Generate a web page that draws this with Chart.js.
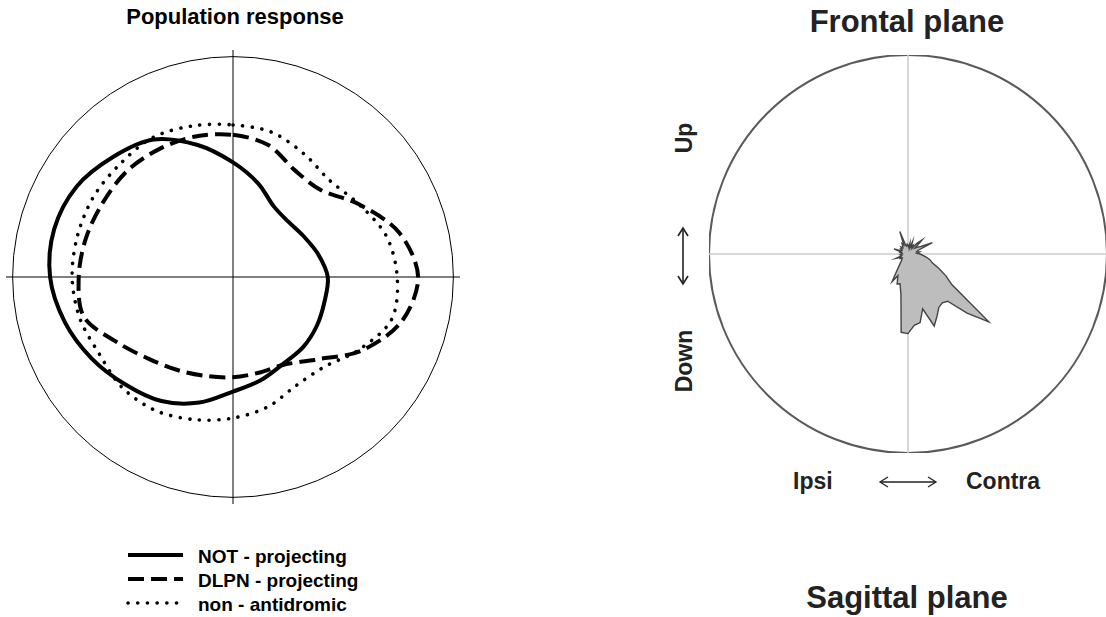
<!DOCTYPE html>
<html>
<head>
<meta charset="utf-8">
<title>Population response / Frontal plane</title>
<script src="https://cdn.jsdelivr.net/npm/chart.js@4.4.1/dist/chart.umd.min.js"></script>
<style>
  html, body { margin: 0; padding: 0; background: #fff; }
  body {
    width: 1106px; height: 617px; position: relative; overflow: hidden;
    font-family: "Liberation Sans", Arial, Helvetica, sans-serif; font-weight: bold;
  }
  .txt { position: absolute; line-height: 1; white-space: nowrap; }
  .box { position: absolute; }
  .rot { transform: translate(-50%, -50%) rotate(-90deg); }
</style>
</head>
<body>

<div class="txt" style="left:85px; top:6px; width:300px; text-align:center; font-size:22px; color:#000;">Population response</div>
<div class="box" style="left:6px; top:50px; width:454px; height:454px;"><canvas id="popChart"></canvas></div>
<div id="legend"></div>

<div class="txt" style="left:757px; top:6px; width:300px; text-align:center; font-size:31px; color:#222;">Frontal plane</div>
<div class="box" style="left:709px; top:55px; width:398px; height:398px;"><canvas id="frontalChart"></canvas></div>
<div class="txt rot" style="left:684px; top:138px; font-size:23px; color:#222;">Up</div>
<div class="txt rot" style="left:684px; top:361px; font-size:23px; color:#222;">Down</div>
<svg class="box" style="left:677px; top:226px;" width="12" height="60">
  <line x1="6" y1="2" x2="6" y2="58" stroke="#222" stroke-width="1.6"/>
  <polyline points="1,10 6,2 11,10" fill="none" stroke="#222" stroke-width="1.6"/>
  <polyline points="1,50 6,58 11,50" fill="none" stroke="#222" stroke-width="1.6"/>
</svg>
<div class="txt" style="left:793px; top:470px; font-size:23px; color:#222;">Ipsi</div>
<div class="txt" style="left:966px; top:470px; font-size:23px; color:#222;">Contra</div>
<svg class="box" style="left:878px; top:476px;" width="60" height="12">
  <line x1="2" y1="6" x2="58" y2="6" stroke="#222" stroke-width="1.3"/>
  <polyline points="10,1 2,6 10,11" fill="none" stroke="#222" stroke-width="1.3"/>
  <polyline points="50,1 58,6 50,11" fill="none" stroke="#222" stroke-width="1.3"/>
</svg>
<div class="txt" style="left:757px; top:582px; width:300px; text-align:center; font-size:31px; color:#222;">Sagittal plane</div>

<script>
// Population response: radius as a fraction of the outer circle,
// one value every 15 deg, clockwise starting from "up"
const popAngles = [0, 15, 30, 45, 60, 75, 90, 105, 120, 135, 150, 165,
                   180, 195, 210, 225, 240, 255, 270, 285, 300, 315, 330, 345];
const notProjecting  = [0.52, 0.44, 0.37, 0.355, 0.37, 0.40, 0.43, 0.43, 0.44, 0.45, 0.455, 0.485,
                        0.52, 0.59, 0.65, 0.69, 0.74, 0.79, 0.83, 0.84, 0.82, 0.77, 0.72, 0.62];
const dlpnProjecting = [0.645, 0.62, 0.56, 0.56, 0.66, 0.78, 0.84, 0.79, 0.67, 0.53, 0.46, 0.45,
                        0.455, 0.465, 0.49, 0.53, 0.60, 0.70, 0.70, 0.69, 0.68, 0.68, 0.67, 0.66];
const nonAntidromic  = [0.69, 0.68, 0.645, 0.62, 0.66, 0.72, 0.745, 0.745, 0.66, 0.58, 0.57, 0.61,
                        0.64, 0.67, 0.70, 0.71, 0.70, 0.72, 0.73, 0.73, 0.73, 0.725, 0.73, 0.71];
const seriesNames = ['NOT - projecting', 'DLPN - projecting', 'non - antidromic'];

// Frontal plane response, every 5 deg clockwise from "up" (outer circle = 200)
const frontalAngles = [0, 5, 10, 15, 20, 25, 30, 35, 40, 45, 50, 55,
                       60, 65, 70, 75, 80, 85, 90, 95, 100, 105, 110, 115,
                       120, 125, 130, 135, 140, 145, 150, 155, 160, 165, 170, 175,
                       180, 185, 190, 195, 200, 205, 210, 215, 220, 225, 230, 235,
                       240, 245, 250, 255, 260, 265, 270, 275, 280, 285, 290, 295,
                       300, 305, 310, 315, 320, 325, 330, 335, 340, 345, 350, 355];
const frontalResponse = [9, 7, 11, 6, 13, 8, 10, 7, 14, 20, 9, 12,
                         15, 27, 11, 9, 12, 9, 12, 15, 19, 23, 26, 34,
                         44, 54, 106, 84, 62, 60, 62, 69, 77, 57, 70, 72,
                         80, 79, 41, 31, 32, 24, 32, 18, 12, 9, 8, 7,
                         9, 8, 13, 7, 6, 8, 7, 6, 8, 7, 15, 8,
                         7, 9, 8, 10, 8, 9, 12, 10, 24, 9, 8, 10];

const popSeries = [notProjecting, dlpnProjecting, nonAntidromic];
const lineStyles = [
  { width: 4, dash: [], cap: 'butt' },
  { width: 4, dash: [16, 7], cap: 'butt' },
  { width: 3.6, dash: [0.1, 9.6], cap: 'round' }
];

function onlyTicks(values) {
  return function(scale) {
    scale.ticks = values.map(v => ({ value: v }));
  };
}

new Chart(document.getElementById('popChart'), {
  type: 'radar',
  data: {
    labels: popAngles,
    datasets: popSeries.map((s, i) => ({
      label: seriesNames[i],
      data: s,
      borderColor: '#000',
      borderWidth: lineStyles[i].width,
      borderDash: lineStyles[i].dash,
      borderCapStyle: lineStyles[i].cap,
      fill: false,
      pointRadius: 0,
      tension: 0.32
    }))
  },
  options: {
    responsive: true,
    maintainAspectRatio: false,
    animation: false,
    layout: { padding: 0 },
    plugins: { legend: { display: false }, tooltip: { enabled: false } },
    scales: {
      r: {
        min: 0,
        max: 1.03,
        afterBuildTicks: onlyTicks([0, 1]),
        ticks: { display: false },
        pointLabels: { display: false },
        grid: { circular: true, color: '#000', lineWidth: 1 },
        angleLines: {
          display: true,
          color: '#000',
          lineWidth: ctx => (ctx.index % 6 === 0 ? 1 : 0)
        }
      }
    }
  }
});

new Chart(document.getElementById('frontalChart'), {
  type: 'radar',
  data: {
    labels: frontalAngles,
    datasets: [{
      label: 'Frontal plane',
      data: frontalResponse,
      backgroundColor: '#bdbdbd',
      borderColor: '#444',
      borderWidth: 1.4,
      fill: 'origin',
      pointRadius: 0,
      tension: 0
    }]
  },
  options: {
    responsive: true,
    maintainAspectRatio: false,
    animation: false,
    layout: { padding: 0 },
    plugins: { legend: { display: false }, tooltip: { enabled: false } },
    scales: {
      r: {
        min: 0,
        max: 200,
        afterBuildTicks: onlyTicks([0, 200]),
        ticks: { display: false },
        pointLabels: { display: false },
        grid: { circular: true, color: '#5a5a5a', lineWidth: 2 },
        angleLines: {
          display: true,
          color: '#cacaca',
          lineWidth: ctx => (ctx.index % 18 === 0 ? 1.5 : 0)
        }
      }
    }
  }
});

// legend under the left plot, built from the same names and styles
const legend = document.getElementById('legend');
const legendTop = 555;
const rowStep = 24;
seriesNames.forEach((name, i) => {
  const y = legendTop + i * rowStep;
  const st = lineStyles[i];
  const svg = document.createElementNS('http://www.w3.org/2000/svg', 'svg');
  svg.setAttribute('class', 'box');
  svg.setAttribute('width', '60');
  svg.setAttribute('height', '10');
  svg.style.left = '126px';
  svg.style.top = (y - 5) + 'px';
  const ln = document.createElementNS('http://www.w3.org/2000/svg', 'line');
  ln.setAttribute('x1', '2');
  ln.setAttribute('x2', '57');
  ln.setAttribute('y1', '5');
  ln.setAttribute('y2', '5');
  ln.setAttribute('stroke', '#000');
  ln.setAttribute('stroke-width', st.width);
  ln.setAttribute('stroke-linecap', st.cap);
  if (st.dash.length) ln.setAttribute('stroke-dasharray', st.dash.join(' '));
  svg.appendChild(ln);
  legend.appendChild(svg);

  const t = document.createElement('div');
  t.className = 'txt';
  t.style.left = '198px';
  t.style.top = (y - 8) + 'px';
  t.style.fontSize = '19px';
  t.style.color = '#000';
  t.textContent = name;
  legend.appendChild(t);
});
</script>
</body>
</html>
